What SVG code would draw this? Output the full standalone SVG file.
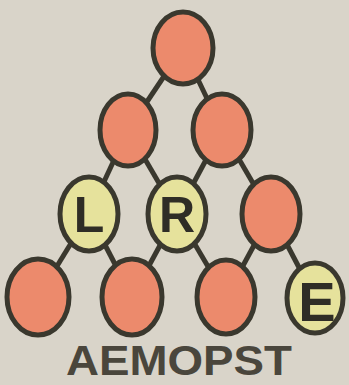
<svg xmlns="http://www.w3.org/2000/svg" width="349" height="385" viewBox="0 0 349 385">
<style>
.o{fill:#ec8a6c;stroke:#3a382e;stroke-width:5}
.y{fill:#e6e29c;stroke:#3a382e;stroke-width:5}
.c line{stroke:#3a382e;stroke-width:5}
.t{font-family:"Liberation Sans",Arial,sans-serif;font-weight:bold;fill:#2f2d26;text-anchor:middle}
.lab{font-family:"Liberation Sans",Arial,sans-serif;font-weight:bold;fill:#4a463c;text-anchor:middle}
</style>
<rect width="349" height="385" fill="#d9d4c9"/>
<g class="c" id="connectors">
<line x1="183" y1="48" x2="128" y2="130"/>
<line x1="183" y1="48" x2="222" y2="130"/>
<line x1="128" y1="130" x2="89" y2="214"/>
<line x1="128" y1="130" x2="177" y2="214"/>
<line x1="222" y1="130" x2="177" y2="214"/>
<line x1="222" y1="130" x2="271" y2="214"/>
<line x1="89" y1="214" x2="38" y2="297"/>
<line x1="89" y1="214" x2="132" y2="297"/>
<line x1="177" y1="214" x2="132" y2="297"/>
<line x1="177" y1="214" x2="226" y2="297"/>
<line x1="271" y1="214" x2="226" y2="297"/>
<line x1="271" y1="214" x2="315" y2="298"/>
</g>
<g id="n1"><ellipse class="o" cx="183" cy="48" rx="30" ry="36"/></g>
<g id="n2"><ellipse class="o" cx="128" cy="130" rx="28" ry="36"/></g>
<g id="n3"><ellipse class="o" cx="222" cy="130" rx="29" ry="36"/></g>
<g id="n4"><ellipse class="y" cx="89" cy="214" rx="29" ry="37"/><text class="t" x="89" y="232" font-size="50">L</text></g>
<g id="n5"><ellipse class="y" cx="177" cy="214" rx="29" ry="37"/><text class="t" x="177" y="232" font-size="50">R</text></g>
<g id="n6"><ellipse class="o" cx="271" cy="214" rx="29" ry="37"/></g>
<g id="n7"><ellipse class="o" cx="38" cy="297" rx="31" ry="38"/></g>
<g id="n8"><ellipse class="o" cx="132" cy="297" rx="30" ry="38"/></g>
<g id="n9"><ellipse class="o" cx="226" cy="297" rx="29" ry="37"/></g>
<g id="n10"><ellipse class="y" cx="315" cy="298" rx="28" ry="35"/><text class="t" x="317" y="321" font-size="56">E</text></g>
<text class="lab" x="179" y="375" font-size="42" textLength="226" lengthAdjust="spacingAndGlyphs">AEMOPST</text>
</svg>
